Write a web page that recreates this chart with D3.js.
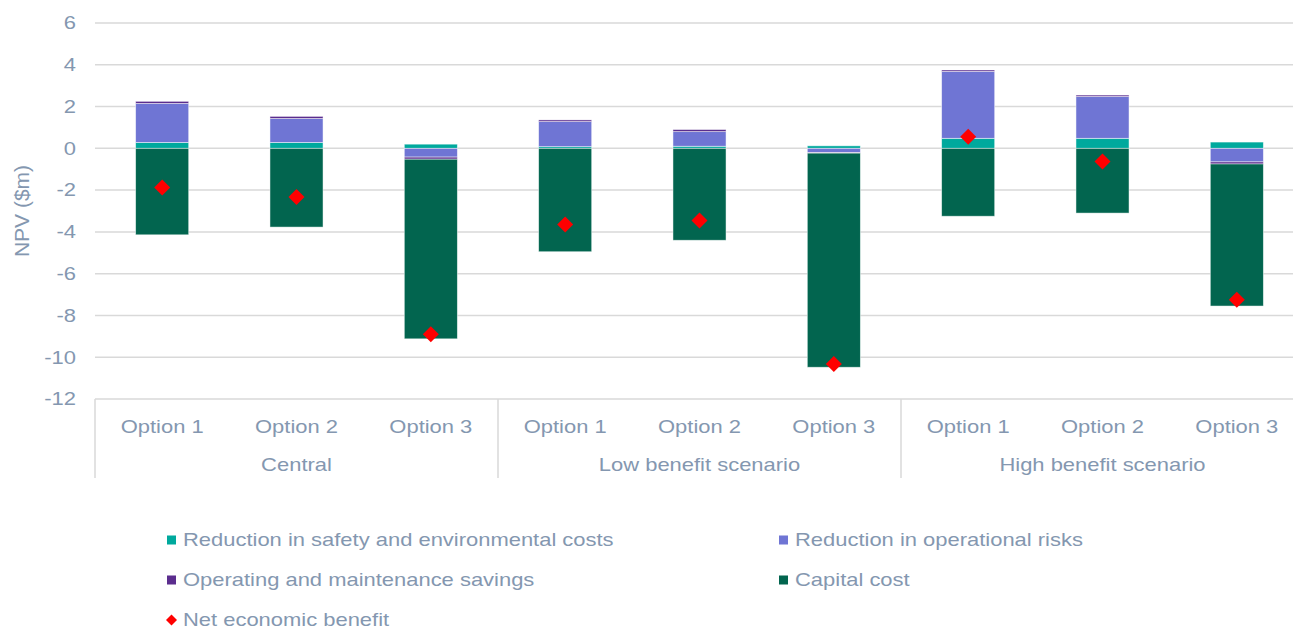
<!DOCTYPE html>
<html>
<head>
<meta charset="utf-8">
<script src="https://cdn.jsdelivr.net/npm/d3@7"></script>
<style>
  body { margin: 0; background: #fff; }
  svg { display: block; font-family: "Liberation Sans", Arial, sans-serif; }
</style>
</head>
<body>
<div id="chart"></div>
<script>
// Chart data
const scenarios = ['Central', 'Low benefit scenario', 'High benefit scenario'];
const options = ['Option 1', 'Option 2', 'Option 3'];
const seriesNames = [
    'Reduction in safety and environmental costs',
    'Reduction in operational risks',
    'Operating and maintenance savings',
    'Capital cost'
];
const safetyEnv = [0.28, 0.28, 0.2, 0.08, 0.1, 0.12, 0.48, 0.48, 0.3];
const operational = [1.87, 1.15, -0.42, 1.2, 0.7, -0.2, 3.2, 2.0, -0.65];
const omSavings = [0.1, 0.1, -0.1, 0.08, 0.1, -0.03, 0.07, 0.07, -0.1];
const capitalCost = [-4.14, -3.77, -8.6, -4.95, -4.4, -10.25, -3.25, -3.1, -6.8];
const netBenefit = [-1.87, -2.33, -8.9, -3.65, -3.45, -10.33, 0.55, -0.63, -7.25];
const yTicks = [-12, -10, -8, -6, -4, -2, 0, 2, 4, 6];

const width = 1293;
const height = 630;
const colors = ['#00A99D', '#6F75D4', '#5B2D8E', '#02654F'];
const netColor = '#FF0000';
const textColor = '#8497B0';
const gridColor = '#D9D9D9';
const sx = 1.22; // horizontal stretch of the text

const margin = { left: 95, right: 1304, top: 23, bottom: 399 };

// build rows for the stack
const rows = safetyEnv.map((v, i) => ({
    idx: i,
    s0: v, s1: operational[i], s2: omSavings[i], s3: capitalCost[i]
}));
const stack = d3.stack()
    .keys(['s0', 's1', 's2', 's3'])
    .offset(d3.stackOffsetDiverging);
const stacked = stack(rows);

const x = d3.scaleBand()
    .domain(d3.range(9))
    .range([margin.left, margin.right])
    .paddingInner(0.605)
    .paddingOuter(0.3025);

const y = d3.scaleLinear()
    .domain([-12, 6])
    .range([margin.bottom, margin.top]);

const svg = d3.select('#chart').append('svg')
    .attr('width', width)
    .attr('height', height);

// stretched text helper
function label(parent, px, py, str, anchor, size) {
    parent.append('g')
        .attr('transform', `translate(${px},${py}) scale(${sx},1)`)
        .append('text')
        .attr('text-anchor', anchor)
        .attr('dy', '0.35em')
        .attr('fill', textColor)
        .style('font-size', size + 'px')
        .text(str);
}

// Gridlines
svg.append('g')
    .selectAll('line')
    .data(yTicks)
    .enter().append('line')
    .attr('x1', margin.left)
    .attr('x2', margin.right)
    .attr('y1', d => y(d))
    .attr('y2', d => y(d))
    .attr('stroke', gridColor)
    .attr('stroke-width', 1.5);

// Y tick labels
const yLab = svg.append('g');
yTicks.forEach(t => label(yLab, 76, y(t), t, 'end', 18));

// Y title
svg.append('text')
    .attr('transform', `translate(22,${y(-3)}) rotate(-90)`)
    .attr('text-anchor', 'middle')
    .attr('dy', '0.35em')
    .attr('fill', textColor)
    .style('font-size', '21px')
    .text('NPV ($m)');

// Stacked bars
svg.append('g')
    .selectAll('g')
    .data(stacked)
    .enter().append('g')
    .attr('fill', (d, i) => colors[i])
    .selectAll('rect')
    .data(d => d)
    .enter().append('rect')
    .attr('x', d => x(d.data.idx))
    .attr('width', x.bandwidth())
    .attr('y', d => y(Math.max(d[0], d[1])))
    .attr('height', d => Math.abs(y(d[0]) - y(d[1])))
    .attr('stroke', '#fff')
    .attr('stroke-opacity', 0.6)
    .attr('stroke-width', 0.8);

// Net benefit diamonds
const diamond = r => `M0,${-r}L${r},0L0,${r}L${-r},0Z`;
svg.append('g')
    .selectAll('path')
    .data(netBenefit)
    .enter().append('path')
    .attr('transform', (d, i) => `translate(${x(i) + x.bandwidth() / 2},${y(d)})`)
    .attr('d', diamond(8))
    .attr('fill', netColor);

// Category axis (two levels)
const step = x.step();
const axisG = svg.append('g');
const catBottom = 478;
d3.range(4).forEach(k => {
    const px = margin.left + k * 3 * step;
    axisG.append('line')
        .attr('x1', px).attr('x2', px)
        .attr('y1', margin.bottom).attr('y2', catBottom)
        .attr('stroke', gridColor)
        .attr('stroke-width', 1.5);
});
d3.range(9).forEach(i => {
    label(axisG, x(i) + x.bandwidth() / 2, 427, options[i % 3], 'middle', 18);
});
scenarios.forEach((s, k) => {
    label(axisG, x(k * 3 + 1) + x.bandwidth() / 2, 465, s, 'middle', 18);
});

// Legend
const legend = svg.append('g');
const legendPos = [[167, 540], [779, 540], [167, 580], [779, 580]];
seriesNames.forEach((name, i) => {
    const [lx, ly] = legendPos[i];
    legend.append('rect')
        .attr('x', lx)
        .attr('y', ly - 4.5)
        .attr('width', 9)
        .attr('height', 9)
        .attr('fill', colors[i]);
    label(legend, lx + 16, ly, name, 'start', 18);
});
legend.append('path')
    .attr('transform', 'translate(171.5,620)')
    .attr('d', diamond(5.5))
    .attr('fill', netColor);
label(legend, 183, 620, 'Net economic benefit', 'start', 18);
</script>
</body>
</html>
